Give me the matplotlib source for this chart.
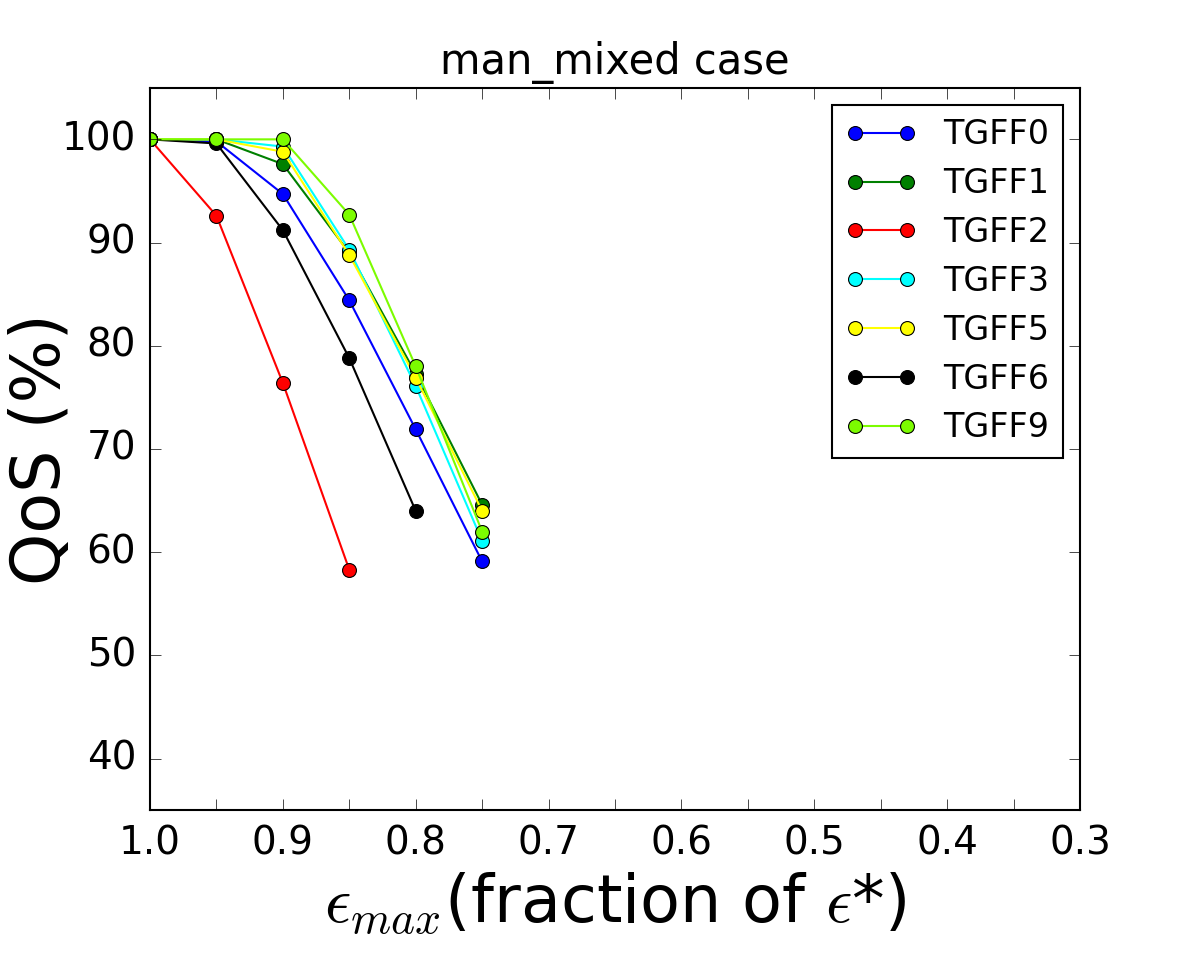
import matplotlib
matplotlib.use("Agg")
import matplotlib.pyplot as plt
from matplotlib.ticker import MultipleLocator

plt.style.use('classic')

eps = [1.0, 0.95, 0.9, 0.85, 0.8, 0.75]

tgff0 = [100, 99.8, 94.7, 84.4, 71.9, 59.1]
tgff1 = [100, 100, 97.6, 89.0, 77.3, 64.6]
tgff2 = [100, 92.6, 76.4, 58.3]
tgff3 = [100, 100, 99.3, 89.3, 76.1, 61.1]
tgff5 = [100, 100, 98.8, 88.8, 76.9, 64.0]
tgff6 = [100, 99.6, 91.2, 78.8, 64.0]
tgff9 = [100, 100, 100, 92.7, 78.0, 62.0]

series = [
    ("TGFF0", tgff0, 'blue'),
    ("TGFF1", tgff1, 'g'),
    ("TGFF2", tgff2, 'red'),
    ("TGFF3", tgff3, 'cyan'),
    ("TGFF5", tgff5, 'yellow'),
    ("TGFF6", tgff6, 'k'),
    ("TGFF9", tgff9, 'lawngreen'),
]

fig = plt.figure(figsize=(12, 9.75), dpi=100, facecolor='white')
ax = fig.add_axes([0.125, 0.169, 0.775, 0.741])
ax.set_facecolor('white')

for name, vals, col in series:
    ax.plot(eps[:len(vals)], vals, '-o', color=col, label=name,
            lw=1.5, markersize=10, markeredgecolor='k', markeredgewidth=0.8)

ax.set_xlim(1.0, 0.3)
ax.set_ylim(35, 105)
ax.xaxis.set_major_locator(MultipleLocator(0.1))
ax.xaxis.set_minor_locator(MultipleLocator(0.05))
ax.tick_params(which='both', direction='in', length=8, labelsize=28, pad=10)
ax.set_yticks([40, 50, 60, 70, 80, 90, 100])
for s in ax.spines.values():
    s.set_linewidth(1.5)

ax.set_title("man_mixed case", fontsize=30, y=1.01)
ax.set_ylabel("QoS (%)", fontsize=48)
ax.yaxis.set_label_coords(-0.082, 0.5)
ax.set_xlabel(r"$\epsilon_{max}$(fraction of $\epsilon$*)", fontsize=47)
ax.xaxis.set_label_coords(0.5, -0.083)

leg = ax.legend(loc='upper right', numpoints=2, fontsize=24,
                borderaxespad=0.52, handlelength=2.15, labelspacing=0.475)
leg.get_frame().set_linewidth(1.5)

fig.savefig("out.png", dpi=100, facecolor='white')
